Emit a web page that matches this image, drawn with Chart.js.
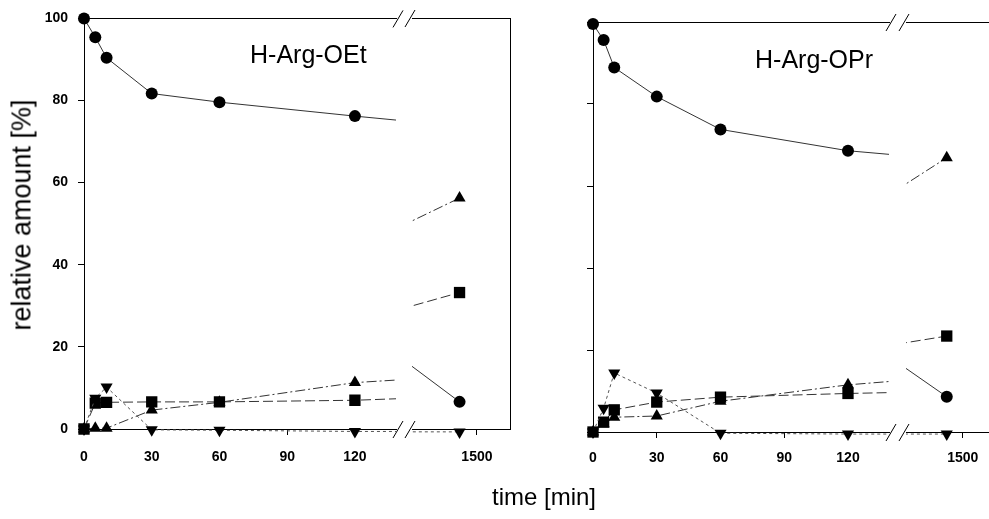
<!DOCTYPE html>
<html>
<head>
<meta charset="utf-8">
<script src="https://cdn.jsdelivr.net/npm/chart.js@4.4.1/dist/chart.umd.min.js"></script>
<style>
  html, body { margin: 0; padding: 0; background: #fff; overflow: hidden; }
  #wrap { position: relative; width: 989px; height: 519px; overflow: hidden; }
  canvas { position: absolute; top: 0; }
  .txt { position: absolute; font-family: "Liberation Sans", Arial, sans-serif; color: #000; line-height: 1; white-space: nowrap; }
</style>
</head>
<body>
<div id="wrap">
  <canvas id="oetMain" width="406" height="519" style="left:0"></canvas>
  <canvas id="oetLate" width="118" height="519" style="left:402px"></canvas>
  <canvas id="oprMain" width="390" height="519" style="left:509px"></canvas>
  <canvas id="oprLate" width="109" height="519" style="left:896px"></canvas>
  <div class="txt" style="left:250px;top:42px;font-size:25px">H-Arg-OEt</div>
  <div class="txt" style="left:755px;top:47px;font-size:25px">H-Arg-OPr</div>
  <div class="txt" style="left:492px;top:485px;font-size:24px">time [min]</div>
  <div class="txt" style="left:22px;top:215px;font-size:27px;transform:translate(-50%,-50%) rotate(-90deg)">relative amount [%]</div>
</div>
<script>
// sampling times [min]
const TIMES = [0, 5, 10, 30, 60, 120, 1440];

// H-Arg-OEt
const OET_CIRCLE = [100, 95.4, 90.4, 81.7, 79.6, 76.2, 6.6];
const OET_TRIANGLE = [0, 0.2, 0.2, 4.6, 6.5, 11.3, 56.2];
const OET_SQUARE = [0, 6.3, 6.5, 6.6, 6.6, 7.0, 33.2];
const OET_DOWN = [0, 7.5, 10.2, -0.2, -0.3, -0.6, -0.7];

// H-Arg-OPr
const OPR_CIRCLE = [99.5, 95.6, 88.9, 81.8, 73.8, 68.6, 8.6];
const OPR_TRIANGLE = [0, 2.0, 3.6, 3.9, 7.5, 11.5, 66.9];
const OPR_SQUARE = [0, 2.4, 5.4, 7.3, 8.5, 9.4, 23.4];
const OPR_DOWN = [0, 5.8, 14.4, 9.5, -0.3, -0.5, -0.5];

const X_TICKS_MAIN = [0, 30, 60, 90, 120];
const X_TICKS_LATE = [1500];
const Y_TICKS = [0, 20, 40, 60, 80, 100];

const TICK_FONT = { family: "'Liberation Sans', Arial, sans-serif", size: 14, weight: "bold" };

function toPoints(values) {
  return TIMES.map((t, i) => ({ x: t, y: values[i] }));
}

function buildSeries(circle, triangle, square, down) {
  return [
    { data: toPoints(circle), pointStyle: "circle", pointRadius: 6, borderDash: [] },
    { data: toPoints(down), pointStyle: "triangle", pointRadius: 7, pointRotation: 180, borderDash: [3, 3], borderColor: "#555" },
    { data: toPoints(square), pointStyle: "rect", pointRadius: 8, borderDash: [10, 4] },
    { data: toPoints(triangle), pointStyle: "triangle", pointRadius: 7, borderDash: [10, 3, 2, 3] },
  ];
}

// draws the "//" marks where the time axis is broken
const breakMarks = {
  id: "breakMarks",
  afterDraw(chart, args, opts) {
    if (!opts.side) return;
    const { ctx, chartArea } = chart;
    const x = opts.side === "right" ? chartArea.right + 2 : chartArea.left - 2;
    ctx.save();
    ctx.strokeStyle = "#000";
    ctx.lineWidth = 1;
    [chartArea.top, chartArea.bottom].forEach((y) => {
      ctx.beginPath();
      ctx.moveTo(x - 5, y + 9);
      ctx.lineTo(x + 5, y - 8);
      ctx.stroke();
    });
    ctx.restore();
  },
};

function makeChart(id, series, cfg) {
  const datasets = series.map((s) => ({
    borderColor: "#333",
    borderWidth: 1,
    pointBackgroundColor: "#000",
    pointBorderColor: "#000",
    pointBorderWidth: 0,
    tension: 0,
    clip: cfg.late
      ? { left: 0, right: 12, top: 12, bottom: 12 }
      : { left: 12, right: 0, top: 12, bottom: 12 },
    ...s,
  }));

  const scales = {
    x: {
      type: "linear",
      min: cfg.xMin,
      max: cfg.xMax,
      afterBuildTicks: (s) => { s.ticks = cfg.xTicks.map((v) => ({ value: v })); },
      afterFit: (s) => { s.height = 50; },
      ticks: { color: "#000", font: TICK_FONT, padding: cfg.xPad, maxRotation: 0, callback: (v) => String(v) },
      grid: { drawOnChartArea: false, tickLength: 6, color: "#000" },
      border: { color: "#000", width: 1 },
    },
    xTop: {
      type: "linear",
      position: "top",
      afterFit: (s) => { s.height = 0; },
      ticks: { display: false },
      grid: { drawOnChartArea: false, drawTicks: false },
      border: { color: "#000", width: 1 },
    },
    y: {
      min: 0,
      max: 100,
      display: !cfg.late,
      afterBuildTicks: (s) => { s.ticks = Y_TICKS.map((v) => ({ value: v })); },
      afterFit: (s) => { s.width = cfg.late ? 0 : 84; },
      ticks: { display: cfg.yLabels, color: "#000", font: TICK_FONT, padding: 10 },
      grid: { drawOnChartArea: false, tickLength: 6, color: "#000" },
      border: { color: "#000", width: 1 },
    },
  };
  if (cfg.late) {
    scales.yRight = {
      position: "right",
      min: 0,
      max: 100,
      afterFit: (s) => { s.width = 0; },
      ticks: { display: false },
      grid: { drawOnChartArea: false, drawTicks: false },
      border: { color: "#000", width: 1 },
    };
  }

  new Chart(document.getElementById(id), {
    type: "line",
    data: { datasets: datasets },
    options: {
      responsive: false,
      animation: false,
      layout: {
        padding: {
          left: cfg.late ? 10 : 0,
          right: 10,
          top: cfg.top,
          bottom: 519 - cfg.bottom - 50,
        },
      },
      plugins: {
        legend: { display: false },
        tooltip: { enabled: false },
        breakMarks: { side: cfg.late ? "left" : "right" },
      },
      scales: scales,
    },
    plugins: [breakMarks],
  });
}

const oetSeries = buildSeries(OET_CIRCLE, OET_TRIANGLE, OET_SQUARE, OET_DOWN);
const oprSeries = buildSeries(OPR_CIRCLE, OPR_TRIANGLE, OPR_SQUARE, OPR_DOWN);

makeChart("oetMain", oetSeries, { late: false, xMin: 0, xMax: 138.2, xTicks: X_TICKS_MAIN, xPad: 14, yLabels: true, top: 18, bottom: 429 });
makeChart("oetLate", oetSeries, { late: true, xMin: 1276, xMax: 1614, xTicks: X_TICKS_LATE, xPad: 14, yLabels: false, top: 18, bottom: 429 });
makeChart("oprMain", oprSeries, { late: false, xMin: 0, xMax: 139.3, xTicks: X_TICKS_MAIN, xPad: 12, yLabels: false, top: 22, bottom: 432 });
makeChart("oprLate", oprSeries, { late: true, xMin: 1288, xMax: 1620, xTicks: X_TICKS_LATE, xPad: 12, yLabels: false, top: 22, bottom: 432 });
</script>
</body>
</html>
